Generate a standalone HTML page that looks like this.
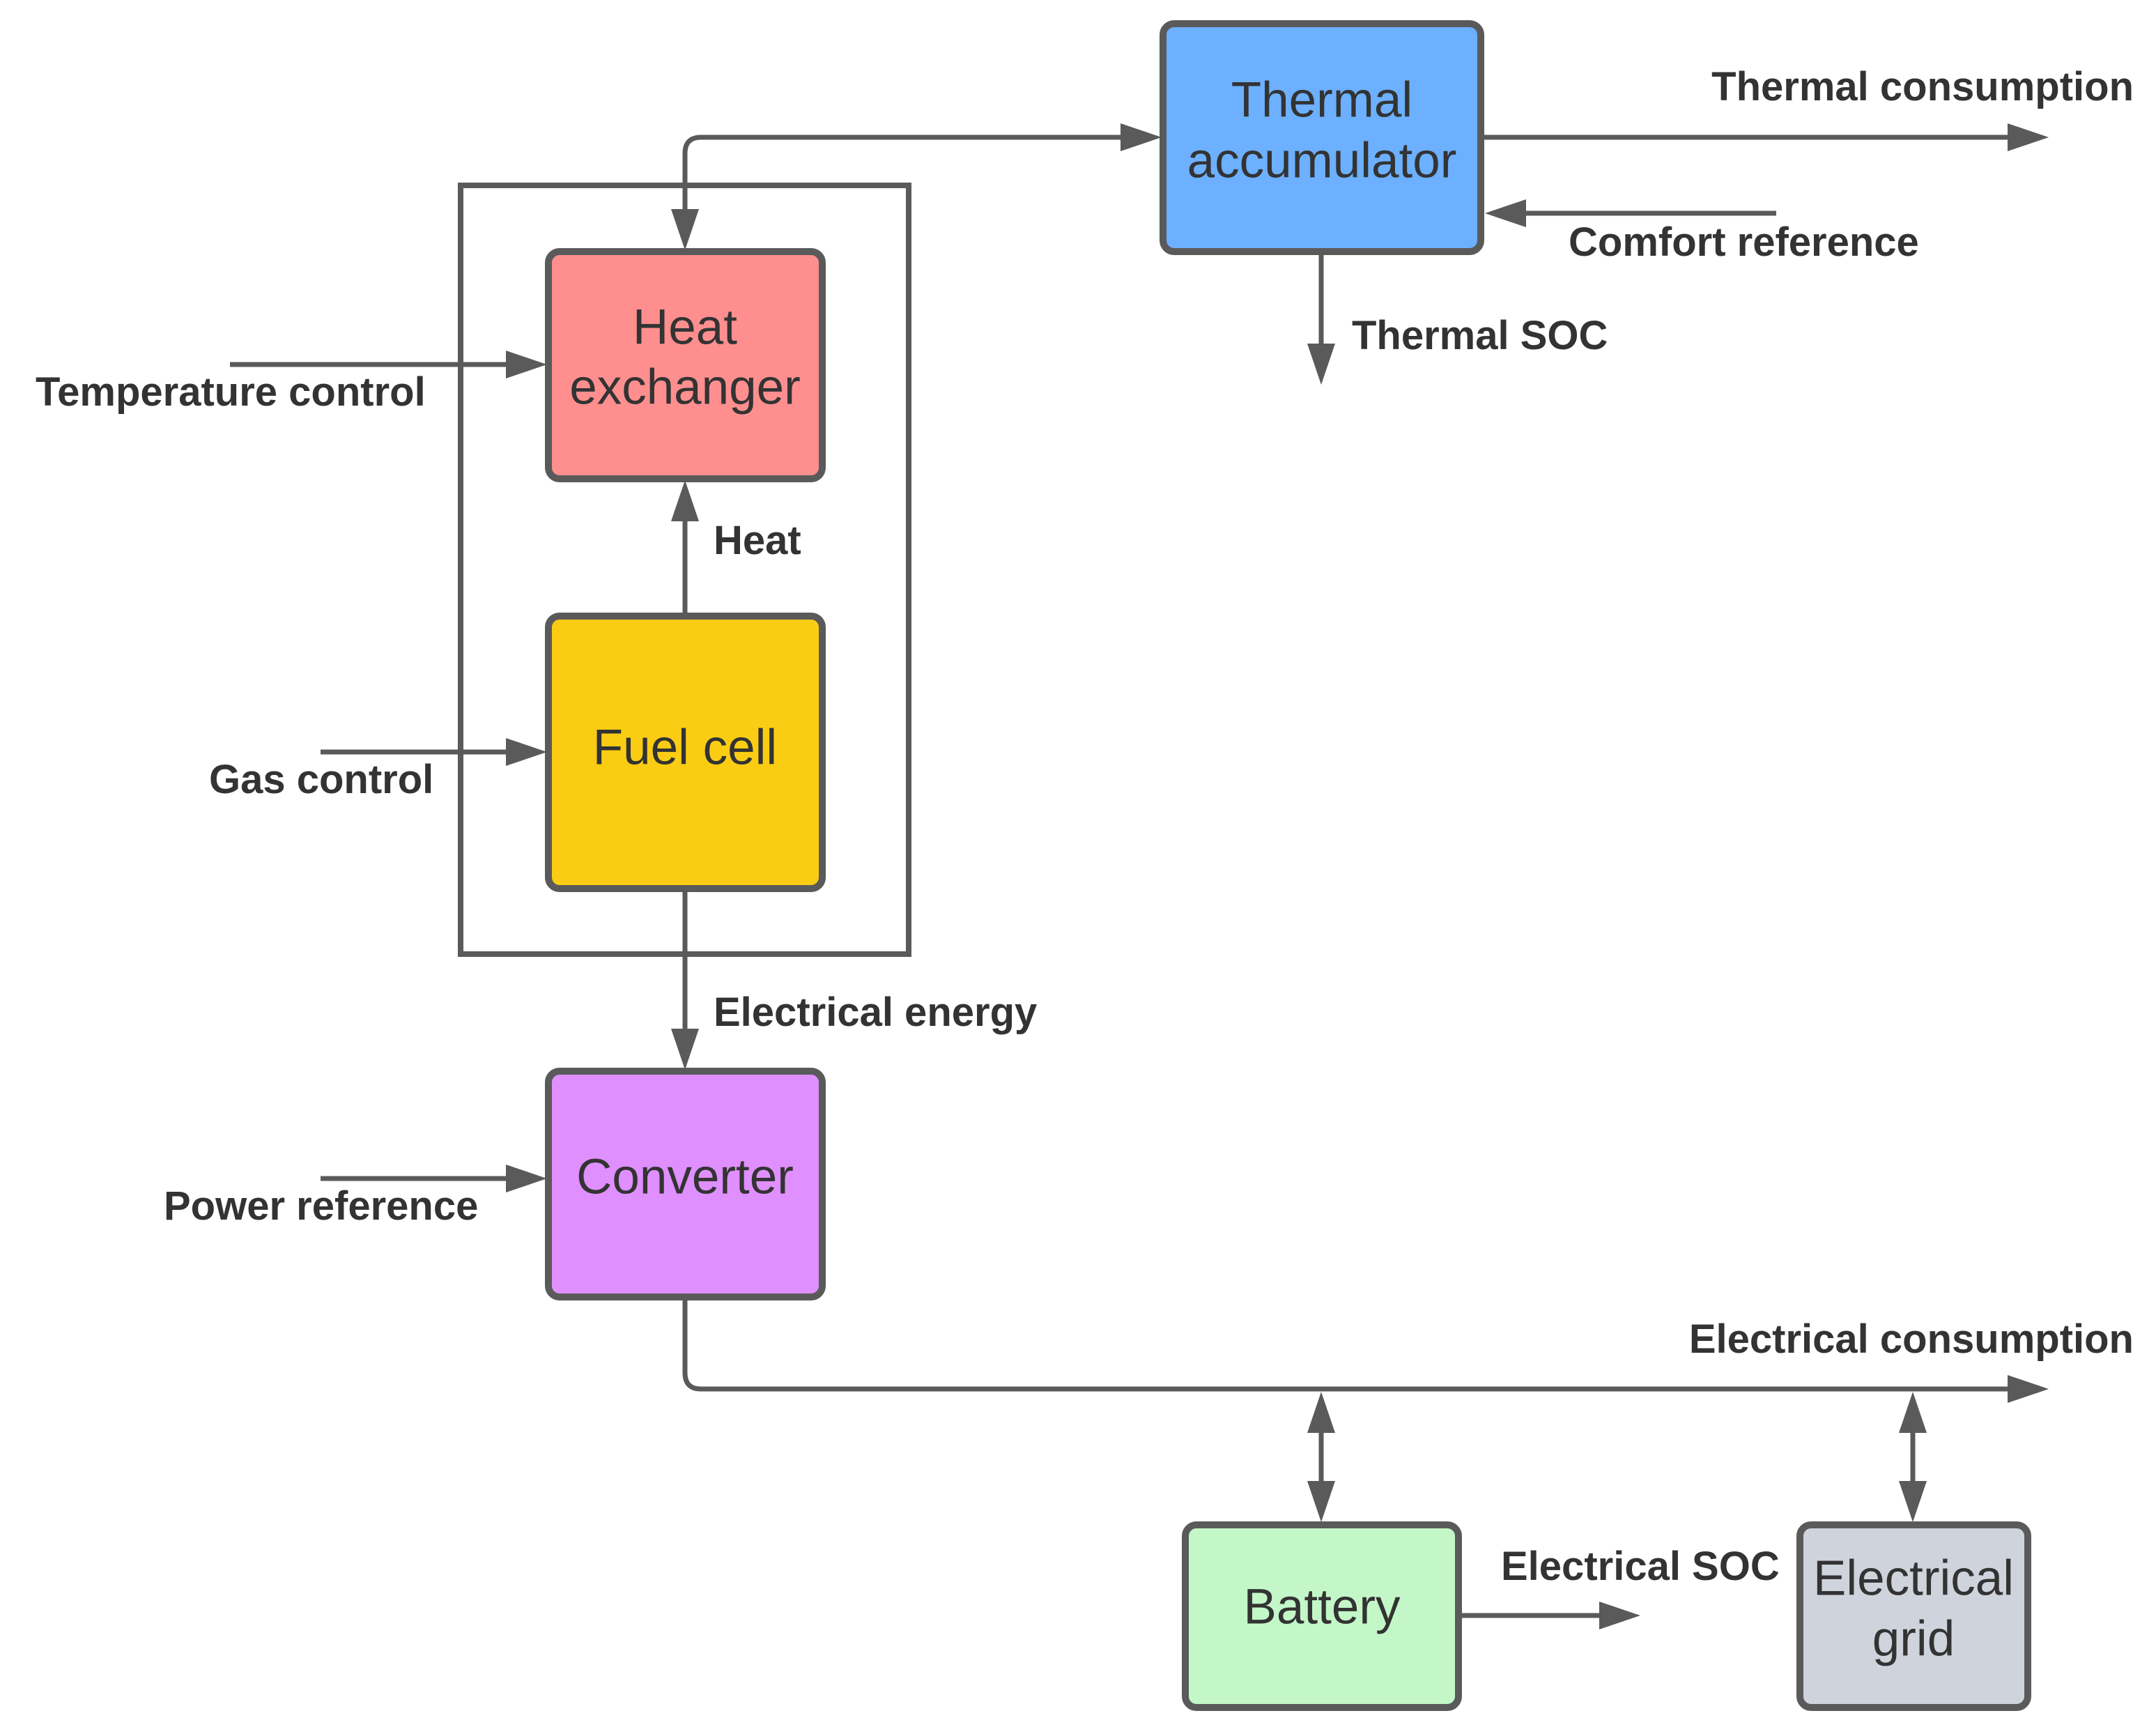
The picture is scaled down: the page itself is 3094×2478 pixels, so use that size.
<!DOCTYPE html>
<html><head><meta charset="utf-8"><style>
html,body{margin:0;padding:0;background:#fff;}
svg{display:block;}
.b{font-family:"Liberation Sans",sans-serif;font-weight:bold;font-size:58px;fill:#333;}
.n{font-family:"Liberation Sans",sans-serif;font-size:71px;fill:#333;text-anchor:middle;dominant-baseline:central;}
.box{stroke:#5a5a5a;stroke-width:10;}
.ln{stroke:#5a5a5a;stroke-width:7;fill:none;}
.ah{fill:#5a5a5a;}
</style></head><body>
<svg width="3094" height="2478" viewBox="0 0 3094 2478" xmlns="http://www.w3.org/2000/svg">
<rect x="661" y="266" width="643" height="1103" fill="none" stroke="#5a5a5a" stroke-width="8"/>
<path class="ln" d="M983,320 L983,220 Q983,197 1006,197 L1630,197"/>
<polygon class="ah" points="983,359 963,300 1003,300"/>
<polygon class="ah" points="1667,197 1608,177 1608,217"/>
<path class="ln" d="M2125,197 L2900,197"/>
<polygon class="ah" points="2940,197 2881,177 2881,217"/>
<path class="ln" d="M2549,306 L2170,306"/>
<polygon class="ah" points="2131,306 2190,286 2190,326"/>
<path class="ln" d="M1896,361 L1896,510"/>
<polygon class="ah" points="1896,552 1876,493 1916,493"/>
<path class="ln" d="M330,523 L750,523"/>
<polygon class="ah" points="785,523 726,503 726,543"/>
<path class="ln" d="M983,882 L983,720"/>
<polygon class="ah" points="983,689 963,748 1003,748"/>
<path class="ln" d="M460,1079 L750,1079"/>
<polygon class="ah" points="785,1079 726,1059 726,1099"/>
<path class="ln" d="M983,1275 L983,1500"/>
<polygon class="ah" points="983,1535 963,1476 1003,1476"/>
<path class="ln" d="M460,1691 L750,1691"/>
<polygon class="ah" points="785,1691 726,1671 726,1711"/>
<path class="ln" d="M983,1861 L983,1970 Q983,1993 1006,1993 L2900,1993"/>
<polygon class="ah" points="2940,1993 2881,1973 2881,2013"/>
<path class="ln" d="M1896,2030 L1896,2150"/>
<polygon class="ah" points="1896,1997 1876,2056 1916,2056"/>
<polygon class="ah" points="1896,2184 1876,2125 1916,2125"/>
<path class="ln" d="M2745,2030 L2745,2150"/>
<polygon class="ah" points="2745,1997 2725,2056 2765,2056"/>
<polygon class="ah" points="2745,2184 2725,2125 2765,2125"/>
<path class="ln" d="M2093,2318 L2320,2318"/>
<polygon class="ah" points="2354,2318 2295,2298 2295,2338"/>
<rect class="box" x="1669" y="34" width="456" height="327" rx="16" fill="#6cb0ff"/>
<rect class="box" x="787" y="361" width="393" height="326" rx="16" fill="#ff8f8f"/>
<rect class="box" x="787" y="884" width="393" height="391" rx="16" fill="#facd14"/>
<rect class="box" x="787" y="1537" width="393" height="324" rx="16" fill="#e08fff"/>
<rect class="box" x="1701" y="2188" width="392" height="262" rx="16" fill="#c3f7c8"/>
<rect class="box" x="2583" y="2188" width="327" height="262" rx="16" fill="#cfd4dc"/>
<text class="n" x="1897" y="144">Thermal</text>
<text class="n" x="1897" y="231">accumulator</text>
<text class="n" x="983" y="470">Heat</text>
<text class="n" x="983" y="556">exchanger</text>
<text class="n" x="983" y="1073">Fuel cell</text>
<text class="n" x="983" y="1689">Converter</text>
<text class="n" x="1897" y="2306">Battery</text>
<text class="n" x="2746" y="2265">Electrical</text>
<text class="n" x="2746" y="2352">grid</text>
<text class="b" x="3062" y="144" text-anchor="end">Thermal consumption</text>
<text class="b" x="2251" y="367">Comfort reference</text>
<text class="b" x="1940" y="501">Thermal SOC</text>
<text class="b" x="51" y="582">Temperature control</text>
<text class="b" x="1024" y="795">Heat</text>
<text class="b" x="300" y="1138">Gas control</text>
<text class="b" x="1024" y="1472">Electrical energy</text>
<text class="b" x="235" y="1750">Power reference</text>
<text class="b" x="3062" y="1941" text-anchor="end">Electrical consumption</text>
<text class="b" x="2154" y="2267">Electrical SOC</text>
</svg>
</body></html>
